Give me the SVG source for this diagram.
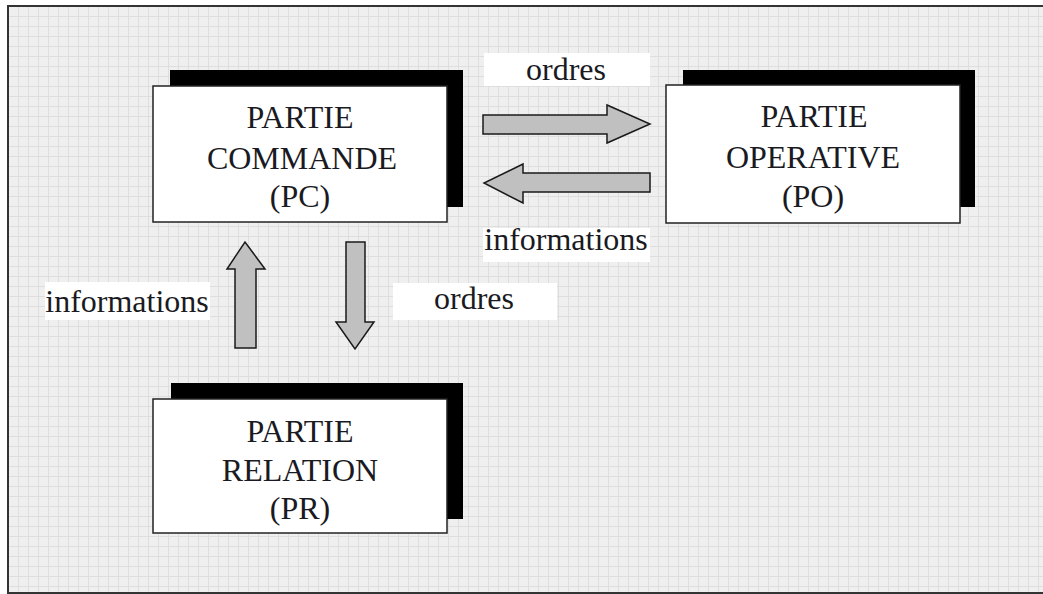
<svg xmlns="http://www.w3.org/2000/svg" width="1043" height="594" viewBox="0 0 1043 594">
  <defs>
    <pattern id="grid" x="8" y="6" width="10" height="10" patternUnits="userSpaceOnUse">
      <rect width="10" height="10" fill="#efefef"/>
      <path d="M0 0.5H10M0.5 0V10" stroke="#dedede" stroke-width="1" fill="none"/>
    </pattern>
    <style>
      .shadow { fill: #000; }
      .box { fill: #fff; stroke: #222; stroke-width: 1.5; }
      .title { font-family: "Liberation Serif", "Times New Roman", serif; font-size: 32px; fill: #1a1a22; text-anchor: middle; }
      .lblbg { fill: #fff; }
      .arrow { fill: #c0c0c0; stroke: #1a1a1a; stroke-width: 1.5; stroke-linejoin: miter; }
    </style>
  </defs>

  <!-- page and grid sheet -->
  <rect x="0" y="0" width="1043" height="594" fill="#fff"/>
  <rect x="8" y="6" width="1035" height="587" fill="url(#grid)"/>
  <path d="M1043 6H8V593H1043" fill="none" stroke="#333" stroke-width="2"/>

  <!-- Partie Commande -->
  <g id="pc">
    <rect class="shadow" x="170" y="70" width="293" height="137"/>
    <rect class="box" x="153" y="86" width="294" height="136"/>
    <text class="title" x="300" y="128">PARTIE</text>
    <text class="title" x="302" y="169">COMMANDE</text>
    <text class="title" x="300" y="207">(PC)</text>
  </g>

  <!-- Partie Operative -->
  <g id="po">
    <rect class="shadow" x="683" y="70" width="292" height="137"/>
    <rect class="box" x="666" y="85" width="294" height="138"/>
    <text class="title" x="814" y="127">PARTIE</text>
    <text class="title" x="813" y="168">OPERATIVE</text>
    <text class="title" x="813" y="207">(PO)</text>
  </g>

  <!-- Partie Relation -->
  <g id="pr">
    <rect class="shadow" x="171" y="383" width="292" height="136"/>
    <rect class="box" x="153" y="399" width="294" height="134"/>
    <text class="title" x="300" y="442">PARTIE</text>
    <text class="title" x="300" y="481">RELATION</text>
    <text class="title" x="300" y="519">(PR)</text>
  </g>

  <!-- connectors: block arrows with their labels -->
  <g id="connectors">
    <path class="arrow" d="M483 115H607V105L650 124L607 143V134H483Z"/>
    <path class="arrow" d="M650 173H523V164L484 183L523 203V192H650Z"/>
    <path class="arrow" d="M235 348V269H227L245 242L265 269H256V348Z"/>
    <path class="arrow" d="M346 242H365V322H374L355 349L336 322H346Z"/>

    <rect class="lblbg" x="484" y="53" width="166" height="33"/>
    <text class="title" x="566" y="80">ordres</text>

    <rect class="lblbg" x="483" y="228" width="167" height="34"/>
    <text class="title" x="566" y="250">informations</text>

    <rect class="lblbg" x="45" y="282" width="165" height="38"/>
    <text class="title" x="127" y="312">informations</text>

    <rect class="lblbg" x="393" y="283" width="164" height="37"/>
    <text class="title" x="474" y="309">ordres</text>
  </g>
</svg>
